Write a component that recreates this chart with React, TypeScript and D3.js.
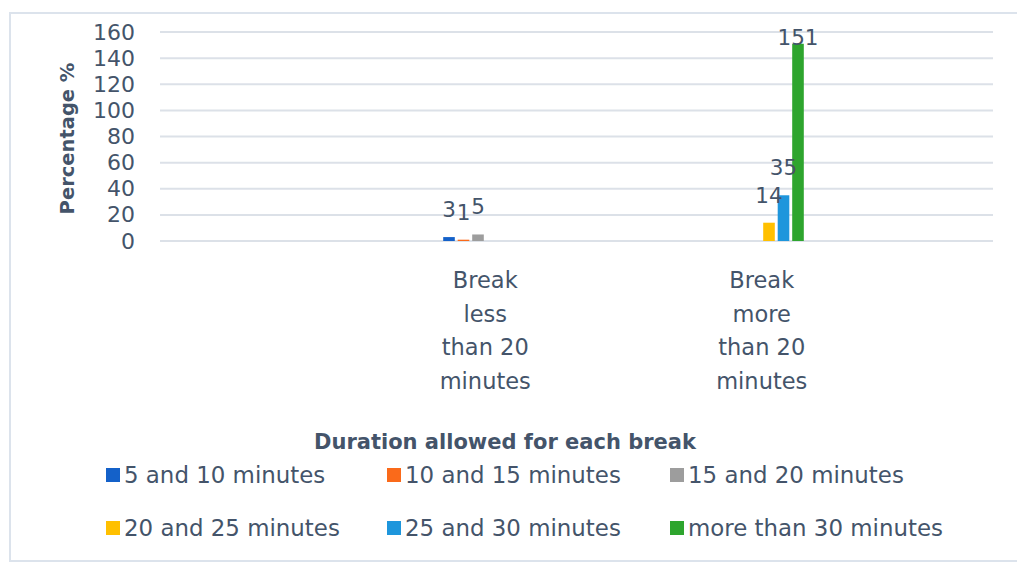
import React from "react";
import * as d3 from "d3";

const categories = ["Break less than 20 minutes", "Break more than 20 minutes"];
const categoryLines = [
  ["Break", "less", "than 20", "minutes"],
  ["Break", "more", "than 20", "minutes"],
];
const seriesNames = [
  "5 and 10 minutes",
  "10 and 15 minutes",
  "15 and 20 minutes",
  "20 and 25 minutes",
  "25 and 30 minutes",
  "more than 30 minutes",
];
const seriesColors = ["#1461C9", "#FA6A1A", "#9D9D9D", "#FFC000", "#1E96DC", "#2EA52E"];
const s5to10: (number | null)[] = [3, null];
const s10to15: (number | null)[] = [1, null];
const s15to20: (number | null)[] = [5, null];
const s20to25: (number | null)[] = [null, 14];
const s25to30: (number | null)[] = [null, 35];
const sMore30: (number | null)[] = [null, 151];
const seriesValues = [s5to10, s10to15, s15to20, s20to25, s25to30, sMore30];
const yTicks = [0, 20, 40, 60, 80, 100, 120, 140, 160];

const W = 1017;
const H = 563;
const TEXT = "#44546A";
const FONT = "'DejaVu Sans', sans-serif";

export default function App() {
  const plotLeft = 160;
  const plotRight = 993;
  const y = d3.scaleLinear().domain([0, 160]).range([241, 32]);
  const x = d3.scaleBand<string>().domain(categories).range([347, 900]).padding(0);
  const xs = d3
    .scaleBand<string>()
    .domain(seriesNames)
    .range([-43.5, 43.5])
    .paddingInner(0.2)
    .paddingOuter(0.1);

  const legendCols = [106, 387, 670];
  const legendRows = [475, 528];

  return (
    <svg
      width={W}
      height={H}
      style={{ position: "absolute", left: 0, top: 0, background: "#fff" }}
      fontFamily={FONT}
    >
      <rect x={0} y={0} width={W} height={H} fill="#fff" />
      {/* chart border */}
      <path d={`M${W + 5},13 H10 V561 H${W + 5}`} fill="none" stroke="#DCE3EC" strokeWidth={2} />
      {/* gridlines */}
      {yTicks.map((t) => (
        <line
          key={"g" + t}
          x1={plotLeft}
          x2={plotRight}
          y1={y(t)}
          y2={y(t)}
          stroke="#DCE1E8"
          strokeWidth={2}
        />
      ))}
      {/* y tick labels */}
      {yTicks.map((t) => (
        <text
          key={"t" + t}
          x={135}
          y={y(t)}
          textAnchor="end"
          dominantBaseline="central"
          fontSize={22}
          fill={TEXT}
        >
          {t}
        </text>
      ))}
      {/* y axis title */}
      <text
        transform={`translate(67,${(62 + 215) / 2}) rotate(-90)`}
        textAnchor="middle"
        dominantBaseline="central"
        fontSize={19.5}
        fontWeight="bold"
        fill={TEXT}
      >
        Percentage %
      </text>
      {/* bars */}
      {seriesValues.map((vals, si) =>
        vals.map((v, ci) => {
          if (v == null) return null;
          const cx = (x(categories[ci]) as number) + x.bandwidth() / 2;
          const bx = cx + (xs(seriesNames[si]) as number);
          return (
            <rect
              key={`b${si}-${ci}`}
              x={bx}
              y={y(v)}
              width={xs.bandwidth()}
              height={y(0) - y(v)}
              fill={seriesColors[si]}
            />
          );
        })
      )}
      {/* data labels */}
      {seriesValues.map((vals, si) =>
        vals.map((v, ci) => {
          if (v == null) return null;
          const cx = (x(categories[ci]) as number) + x.bandwidth() / 2;
          const bx = cx + (xs(seriesNames[si]) as number) + xs.bandwidth() / 2;
          const by = Math.max(y(v) - 20, y(160) + 13);
          return (
            <text
              key={`l${si}-${ci}`}
              x={bx}
              y={by}
              textAnchor="middle"
              fontSize={21.5}
              fill={TEXT}
            >
              {v}
            </text>
          );
        })
      )}
      {/* category labels */}
      {categories.map((c, ci) => {
        const cx = (x(c) as number) + x.bandwidth() / 2;
        return (
          <text key={"c" + ci} textAnchor="middle" fontSize={22.5} fill={TEXT}>
            {categoryLines[ci].map((ln, li) => (
              <tspan key={li} x={cx} y={288 + li * 33.6}>
                {ln}
              </tspan>
            ))}
          </text>
        );
      })}
      {/* legend title */}
      <text
        x={505}
        y={442}
        textAnchor="middle"
        dominantBaseline="central"
        fontSize={21}
        fontWeight="bold"
        fill={TEXT}
      >
        Duration allowed for each break
      </text>
      {/* legend items */}
      {seriesNames.map((n, i) => {
        const col = i % 3;
        const row = Math.floor(i / 3);
        const lx = legendCols[col];
        const ly = legendRows[row];
        return (
          <g key={"lg" + i}>
            <rect x={lx} y={ly - 7} width={14} height={14} fill={seriesColors[i]} />
            <text x={lx + 18} y={ly} dominantBaseline="central" fontSize={22.9} fill={TEXT}>
              {n}
            </text>
          </g>
        );
      })}
    </svg>
  );
}
